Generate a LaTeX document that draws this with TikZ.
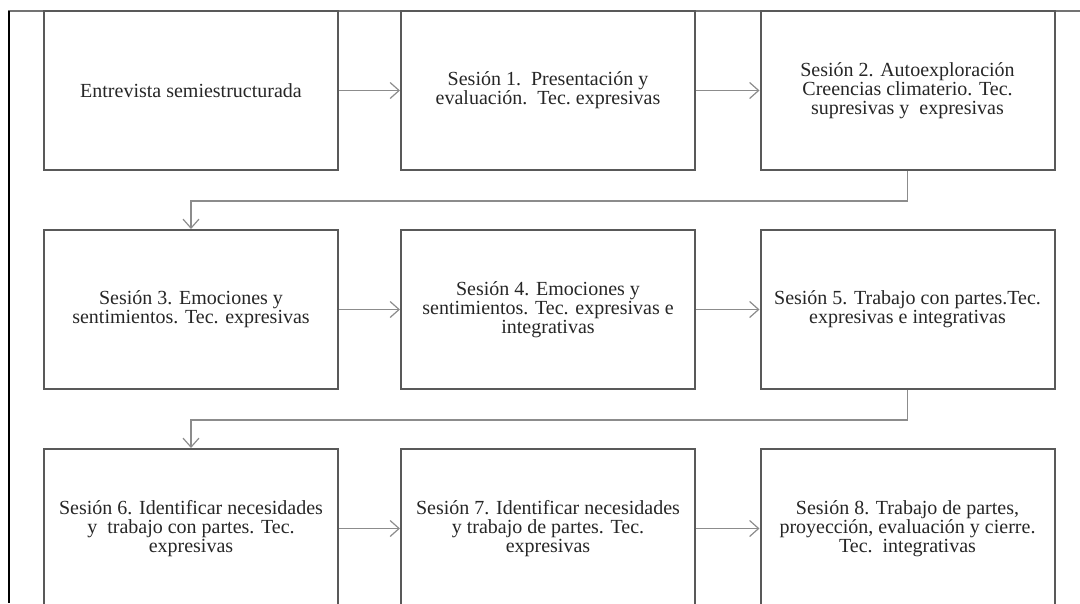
\documentclass[tikz,border=0pt]{standalone}
\usepackage{fontspec}
\setmainfont{Liberation Serif}
\usetikzlibrary{arrows.meta,calc}

\begin{document}
\begin{tikzpicture}[x=1pt, y=-1pt,
    sbox/.style={draw=black!65, line width=2pt, minimum width=294pt, minimum height=159pt, align=center, inner sep=0pt, text=black!85, font=\fontsize{20}{19}\selectfont},
    arrow/.style={-{Straight Barb[length=9pt, width=16pt]}, draw=black!45, line width=1.2pt}
]
    \useasboundingbox (0,0) rectangle (1080,603);
    \clip (0,0) rectangle (1080,603);

    % page frame
    \draw[black!55, line width=2pt] (8,11) -- (1080,11);
    \draw[black, line width=2pt] (9,11) -- (9,603);

    % row 1
    \node[sbox] (entrevista) at (191, 90.5) {Entrevista semiestructurada};
    \node[sbox] (s1) at (548, 90.5) {Sesión 1.\ \ Presentación y\\evaluación.\ \ Tec.\ expresivas};
    \node[sbox] (s2) at (907.5, 90.5) {Sesión 2. Autoexploración\\Creencias climaterio. Tec.\\supresivas y\ \ expresivas};

    % row 2
    \node[sbox] (s3) at (191, 309.5) {Sesión 3. Emociones y\\sentimientos. Tec. expresivas};
    \node[sbox] (s4) at (548, 309.5) {Sesión 4. Emociones y\\sentimientos. Tec. expresivas e\\integrativas};
    \node[sbox] (s5) at (907.5, 309.5) {Sesión 5. Trabajo con partes.Tec.\\expresivas e integrativas};

    % row 3
    \node[sbox] (s6) at (191, 528.5) {Sesión 6. Identificar necesidades\\y\ \ trabajo con partes. Tec.\\expresivas};
    \node[sbox] (s7) at (548, 528.5) {Sesión 7. Identificar necesidades\\y trabajo de partes. Tec.\\expresivas};
    \node[sbox] (s8) at (907.5, 528.5) {Sesión 8. Trabajo de partes,\\proyección, evaluación y cierre.\\Tec.\ \ integrativas};

    % arrows
    \draw[arrow] (entrevista.east) -- (s1.west);
    \draw[arrow] (s1.east) -- (s2.west);
    \draw[arrow] (s2.south) -- ++(0,30) -| (s3.north);
    \draw[arrow] (s3.east) -- (s4.west);
    \draw[arrow] (s4.east) -- (s5.west);
    \draw[arrow] (s5.south) -- ++(0,30) -| (s6.north);
    \draw[arrow] (s6.east) -- (s7.west);
    \draw[arrow] (s7.east) -- (s8.west);
\end{tikzpicture}
\end{document}
